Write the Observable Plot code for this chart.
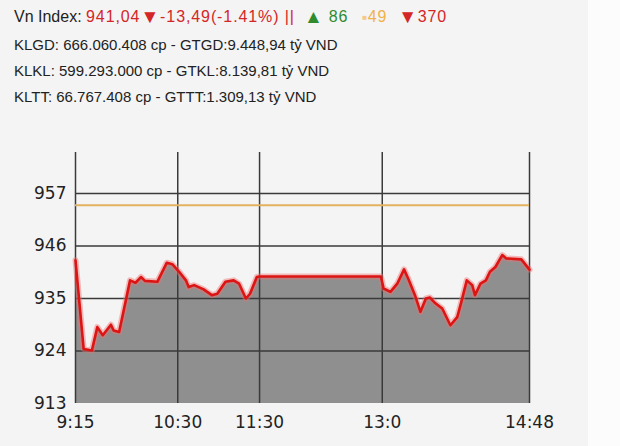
<!DOCTYPE html>
<html><head><meta charset="utf-8">
<script src="https://cdn.jsdelivr.net/npm/d3@7"></script>
<script src="https://cdn.jsdelivr.net/npm/@observablehq/plot@0.6"></script>
<style>
body{margin:0;background:linear-gradient(to right,#f4f4f4 0,#f4f4f4 588px,#fcfcfc 588px);width:620px;height:446px;overflow:hidden;font-family:"Liberation Sans",Arial,sans-serif;}
#hdr{height:110px;position:relative;font-size:15px;color:#222;}
.l{position:absolute;left:14px;white-space:nowrap;line-height:18px;}
#chart svg{display:block;}
</style></head><body>
<div id="hdr"></div>
<div id="chart"></div>
<script>
// header figures
const indexName = "Vn Index";
const indexValue = "941,04";
const indexChange = "-13,49(-1.41%)";
const advances = 86, unchanged = 49, declines = 370;
const statLines = [
  "KLGD: 666.060.408 cp - GTGD:9.448,94 tỷ VND",
  "KLKL: 599.293.000 cp - GTKL:8.139,81 tỷ VND",
  "KLTT: 66.767.408 cp - GTTT:1.309,13 tỷ VND"
];

// series
const times = ["9:15","9:21","9:27","9:31","9:35","9:41","9:43","9:47","9:55","9:59",
  "10:03","10:06","10:15","10:22","10:26","10:31","10:36","10:38","10:42","10:49",
  "10:55","10:59","11:05","11:11","11:15","11:20","11:23","11:28","11:30","12:59",
  "13:01","13:06","13:11","13:16","13:19","13:24","13:28","13:32","13:35","13:39",
  "13:44","13:50","13:55","13:58","14:02","14:06","14:08","14:12","14:16","14:19",
  "14:23","14:28","14:31","14:42","14:48"];
const values = [943.0,924.4,924.1,929.0,927.3,929.5,928.3,928.0,938.8,938.3,
  939.5,938.7,938.5,942.5,942.2,940.6,938.8,937.4,937.8,936.9,
  935.7,936.0,938.5,938.8,938.1,935.0,936.0,939.5,939.6,939.6,
  937.1,936.4,938.1,941.1,939.2,935.7,932.2,935.0,935.2,934.0,
  932.9,929.4,931.1,934.3,938.8,937.8,935.7,938.1,938.8,940.6,
  941.6,944.1,943.4,943.2,941.04];
const refValue = 954.53;
const yTicks = [913, 924, 935, 946, 957];
const xTickLabels = ["9:15","10:30","11:30","13:0","14:48"];

const toMin = s => { const [h, m] = s.split(":").map(Number); return h * 60 + m; };
const data = times.map((t, i) => ({t: toMin(t), v: values[i]}));
const xTicks = xTickLabels.map(toMin);

// header
const hdr = document.getElementById("hdr");
const l1 = document.createElement("div");
l1.className = "l"; l1.style.top = "8px"; l1.style.fontSize = "16px";
const tri = c => `<span style="font-size:19px;line-height:16px;vertical-align:-1px">${c}</span>`;
l1.innerHTML = `${indexName}: <span style="color:#d42626;letter-spacing:0.9px">${indexValue}${tri("▼")}${indexChange} ||</span>`
  + `<span style="color:#2e8b2e;margin-left:9px;letter-spacing:0.8px">${tri("▲")} ${advances}</span>`
  + `<span style="color:#f0b24a;margin-left:14px;letter-spacing:0.8px"><span style="font-size:8px;vertical-align:2px;color:#f5c88a">■</span>${unchanged}</span>`
  + `<span style="color:#d42626;margin-left:11px;letter-spacing:0.8px">${tri("▼")}${declines}</span>`;
hdr.appendChild(l1);
statLines.forEach((s, i) => {
  const d = document.createElement("div");
  d.className = "l"; d.style.top = (36 + i * 26) + "px";
  d.textContent = s;
  hdr.appendChild(d);
});

const chart = Plot.plot({
  width: 620, height: 336,
  marginLeft: 75, marginRight: 91, marginTop: 42, marginBottom: 43,
  style: {background: "transparent", fontFamily: "DejaVu Sans, sans-serif", fontSize: "17px", color: "#222"},
  x: {type: "linear", domain: [toMin("9:15"), toMin("14:48")], ticks: xTicks,
      tickFormat: m => xTickLabels[xTicks.indexOf(m)], tickSize: 0, tickPadding: 12, label: null},
  y: {domain: [913, 965.59], ticks: yTicks, tickFormat: d => String(d), tickSize: 0, tickPadding: 9, label: null},
  marks: [
    Plot.areaY(data, {x: "t", y1: () => 913, y2: "v", fill: "#8f8f8f"}),
    Plot.ruleY(yTicks.slice(1), {stroke: "#3a3a3a", strokeWidth: 1.5}),
    Plot.ruleX(xTicks, {stroke: "#3a3a3a", strokeWidth: 1.5}),
    Plot.ruleY([refValue], {stroke: "#e2b261", strokeWidth: 2}),
    Plot.lineY(data, {x: "t", y: "v", stroke: "#f07070", strokeWidth: 6, strokeOpacity: 0.45}),
    Plot.lineY(data, {x: "t", y: "v", stroke: "#dd1414", strokeWidth: 2.6})
  ]
});
document.getElementById("chart").appendChild(chart);
</script>
</body></html>
